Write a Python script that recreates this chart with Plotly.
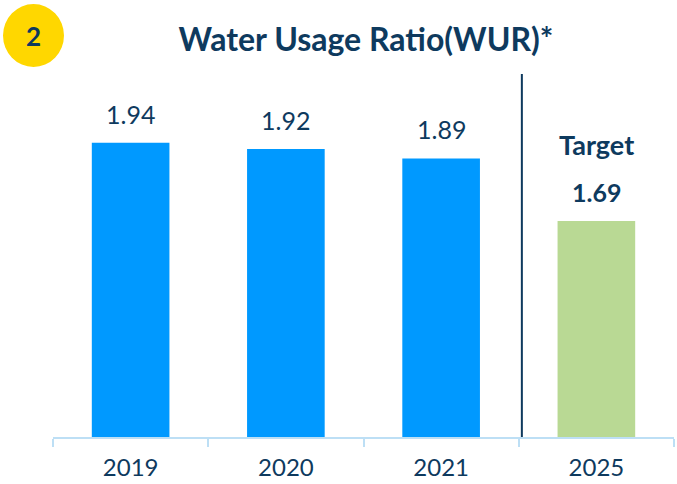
import plotly.graph_objects as go

years = ["2019", "2020", "2021", "2025"]
wur = [1.94, 1.92, 1.89, 1.69]
bar_colors = ["#0099FF", "#0099FF", "#0099FF", "#B9D994"]
value_labels = ["1.94", "1.92", "1.89", "1.69"]

navy = "#0E3A5E"
W, H = 677, 484
ml, mr, mt, mb = 53, 3, 60, 47
plot_h = H - mt - mb
px_per_unit = 313.0
y_top = 1 + plot_h / px_per_unit


def px_to_paper_x(px):
    return (px - ml) / (W - ml - mr)


def px_to_paper_y(py):
    return (H - mb - py) / plot_h


fig = go.Figure()
fig.add_trace(go.Bar(
    x=years, y=wur, base=0, width=0.5,
    marker=dict(color=bar_colors, line=dict(width=0)),
    hoverinfo="skip",
))

# value labels above the bars (2025 is the bold target)
for i, (yr, v, lab) in enumerate(zip(years, wur, value_labels)):
    is_target = yr == "2025"
    fig.add_annotation(
        x=i, y=v, text=f"<b>{lab}</b>" if is_target else lab,
        showarrow=False, yanchor="bottom", yshift=12,
        font=dict(family="Lato", size=25, color=navy),
    )
fig.add_annotation(
    x=3, y=wur[3], text="<b>Target</b>", showarrow=False,
    yanchor="bottom", yshift=58,
    font=dict(family="Lato", size=27, color=navy),
)

# divider between actuals and target
fig.add_shape(type="line", xref="x", yref="y", x0=2.52, x1=2.52, y0=1.0, y1=2.16,
              line=dict(color=navy, width=2))

# yellow badge with number
fig.add_shape(type="circle", xref="paper", yref="paper",
              x0=px_to_paper_x(3), x1=px_to_paper_x(64),
              y0=px_to_paper_y(67), y1=px_to_paper_y(4),
              fillcolor="#FFD700", line=dict(width=0), layer="above")
fig.add_annotation(
    xref="paper", yref="paper", x=px_to_paper_x(33.5), y=px_to_paper_y(36),
    text="<b>2</b>", showarrow=False, xanchor="center", yanchor="middle",
    font=dict(family="Lato", size=26, color=navy),
)

fig.update_layout(
    width=W, height=H,
    margin=dict(l=ml, r=mr, t=mt, b=mb),
    paper_bgcolor="white", plot_bgcolor="white",
    showlegend=False,
    title=dict(text="<b>Water Usage Ratio(WUR)*</b>", x=366 / W, xanchor="center",
               y=1 - 40 / H, yanchor="middle",
               font=dict(family="Lato", size=32, color=navy)),
    xaxis=dict(
        type="category", range=[-0.5, 3.5],
        showline=True, linecolor="#BDDFF5", linewidth=2,
        ticks="outside", tickson="boundaries", ticklen=8, tickwidth=2, tickcolor="#BDDFF5",
        ticklabelstandoff=8,
        tickfont=dict(family="Lato", size=24, color=navy),
        showgrid=False, zeroline=False, fixedrange=True,
    ),
    yaxis=dict(range=[1.0, y_top], visible=False, showgrid=False, zeroline=False),
    bargap=0.5,
)

# page has a default body margin; drop it so the chart sits at the window corner
fig.write_html("out.html", config={"displayModeBar": False},
               post_script="document.body.style.margin='0';")
